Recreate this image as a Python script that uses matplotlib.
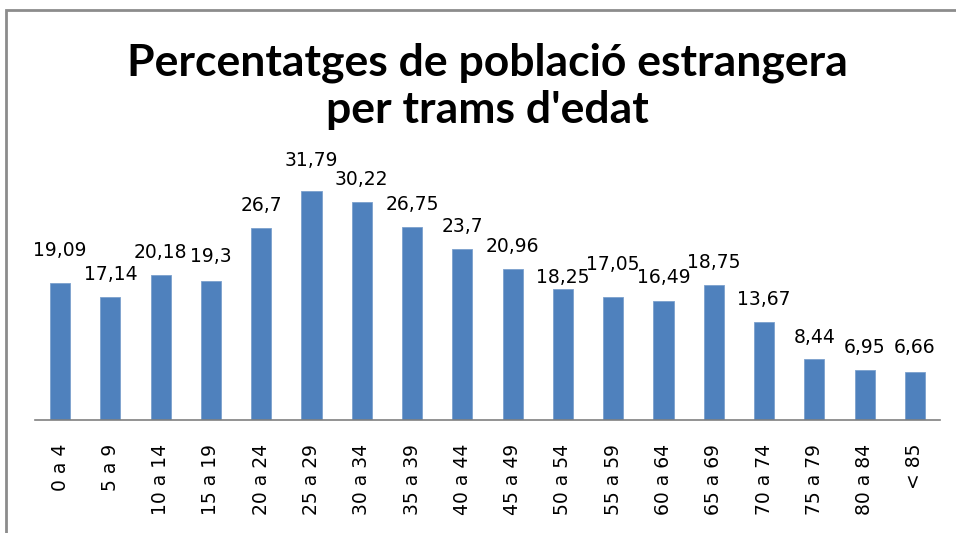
import matplotlib
matplotlib.use("Agg")
import matplotlib.pyplot as plt
from matplotlib.patches import Rectangle

CATEGORIES = ["0 a 4", "5 a 9", "10 a 14", "15 a 19", "20 a 24", "25 a 29",
              "30 a 34", "35 a 39", "40 a 44", "45 a 49", "50 a 54", "55 a 59",
              "60 a 64", "65 a 69", "70 a 74", "75 a 79", "80 a 84", "< 85"]
VALUES = [19.09, 17.14, 20.18, 19.3, 26.7, 31.79, 30.22, 26.75, 23.7,
          20.96, 18.25, 17.05, 16.49, 18.75, 13.67, 8.44, 6.95, 6.66]
LABELS = ["19,09", "17,14", "20,18", "19,3", "26,7", "31,79", "30,22", "26,75", "23,7",
          "20,96", "18,25", "17,05", "16,49", "18,75", "13,67", "8,44", "6,95", "6,66"]
TITLE = "Percentatges de població estrangera\nper trams d'edat"

# extra vertical nudge (px) of some data labels, as the original layout moved them
LABEL_NUDGE = [10, 0, 0, 2, 0, 8, 0, 0, 0, 0, -11, 10, 1, 0, 0, -1, 0, 2]

W, H = 956, 533


def main():
    fig = plt.figure(figsize=(W / 100, H / 100), dpi=100)
    ax = fig.add_axes([35 / W, 1 - 420 / H, 905 / W, 252 / H])

    x = range(len(VALUES))
    ax.bar(x, VALUES, width=0.4, color="#4F81BD", edgecolor="#7BA0CD", linewidth=0.6, zorder=2)
    for xi, v, lab, dy in zip(x, VALUES, LABELS, LABEL_NUDGE):
        ax.annotate(lab, (xi, v), xytext=(0, (17 + dy) * 0.72), textcoords="offset points",
                    ha="center", va="baseline", fontsize=13.5, color="black")

    ax.set_xlim(-0.5, len(VALUES) - 0.5)
    ax.set_ylim(0, 35)
    ax.set_xticks(list(x))
    ax.set_xticklabels(CATEGORIES, rotation=90, fontsize=13.5, va="top")
    ax.tick_params(axis="x", length=0, pad=17)
    ax.set_yticks([])
    for s in ["top", "right", "left"]:
        ax.spines[s].set_visible(False)
    ax.spines["bottom"].set_color("#808080")
    ax.spines["bottom"].set_linewidth(1.2)

    fig.text(487 / W, 1 - 86 / H, TITLE, ha="center", va="center",
             fontsize=32, fontweight="bold", family="Lato", linespacing=1.22)

    fig.patches.append(Rectangle((6 / W, -0.1), 1.2, 1 - 10 / H + 0.1,
                                 transform=fig.transFigure, fill=False,
                                 edgecolor="#8C8C8C", linewidth=2))

    fig.savefig("out.png", dpi=100)
    plt.close(fig)


if __name__ == "__main__":
    main()
